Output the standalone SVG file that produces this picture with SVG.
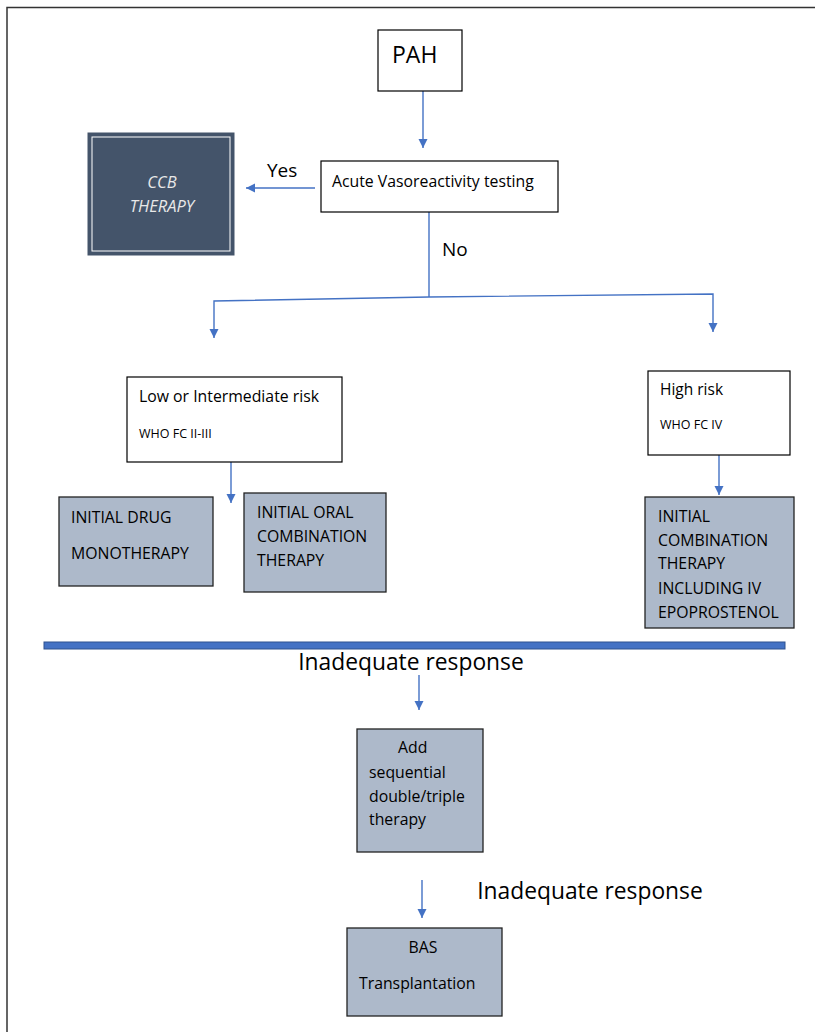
<svg xmlns="http://www.w3.org/2000/svg" width="815" height="1032" viewBox="0 0 815 1032">
<defs>
<marker id="ah" markerWidth="12" markerHeight="12" refX="9" refY="4.5" orient="auto" markerUnits="userSpaceOnUse">
<path d="M0,0 L9,4.5 L0,9 Z" fill="#4472C4"/>
</marker>
<style>
.box{fill:#ffffff;stroke:#000;stroke-width:1.2}
.gbox{fill:#ADB9CA;stroke:#222;stroke-width:1.3}
.t{font-family:"Open Sans","Liberation Sans",sans-serif;fill:#000}
.m{font-size:15.8px}
.c{stroke:#4472C4;stroke-width:1.4;fill:none}
.ca{stroke:#4472C4;stroke-width:1.4;fill:none;marker-end:url(#ah)}
</style>
</defs>
<rect width="815" height="1032" fill="#fff"/>
<path d="M7,1032 V7.5 H815" fill="none" stroke="#333" stroke-width="1.5"/>

<g id="connectors">
<line class="ca" x1="423" y1="91" x2="423" y2="148"/>
<line class="ca" x1="315" y1="188" x2="246" y2="188"/>
<polyline class="c" points="429,212 429,297"/>
<polyline class="ca" points="429,297 214,301 214,338"/>
<polyline class="ca" points="429,297 713,294 713,332"/>
<line class="ca" x1="231" y1="462" x2="231" y2="503"/>
<line class="ca" x1="719" y1="455" x2="719" y2="495"/>
<line class="ca" x1="419" y1="675" x2="419" y2="710"/>
<line class="ca" x1="422" y1="880" x2="422" y2="918"/>
</g>

<g id="pah">
<rect class="box" x="378" y="30" width="84" height="61"/>
<text class="t" x="392" y="63" font-size="23">PAH</text>
</g>

<g id="avt">
<rect class="box" x="321" y="161" width="237" height="51"/>
<text class="t m" x="332" y="187">Acute Vasoreactivity testing</text>
</g>

<g id="ccb">
<rect x="88" y="133" width="146" height="122" fill="#44546A" stroke="#44546A"/>
<rect x="92" y="137" width="138" height="114" fill="none" stroke="#ffffff" stroke-width="1"/>
<text class="t" x="162" y="188" font-size="16.5" font-style="italic" style="fill:#e8e8e8" text-anchor="middle">CCB</text>
<text class="t" x="162" y="212" font-size="16.5" font-style="italic" style="fill:#e8e8e8" text-anchor="middle">THERAPY</text>
</g>

<g id="labels">
<text class="t" x="267" y="177" font-size="19">Yes</text>
<text class="t" x="442" y="256" font-size="19">No</text>
<text class="t" x="411" y="670" font-size="22.8" text-anchor="middle">Inadequate response</text>
<text class="t" x="590" y="899" font-size="22.8" text-anchor="middle">Inadequate response</text>
</g>

<g id="low">
<rect class="box" x="127" y="377" width="215" height="85"/>
<text class="t m" x="139" y="402">Low or Intermediate risk</text>
<text class="t" x="139" y="438" font-size="12.5">WHO FC II-III</text>
</g>

<g id="high">
<rect class="box" x="648" y="371" width="142" height="84"/>
<text class="t" x="660" y="395" font-size="15.5">High risk</text>
<text class="t" x="660" y="429" font-size="12.5">WHO FC IV</text>
</g>

<g id="mono">
<rect class="gbox" x="59" y="497" width="154" height="89"/>
<text class="t m" x="71" y="523">INITIAL DRUG</text>
<text class="t m" x="71" y="559">MONOTHERAPY</text>
</g>

<g id="oral">
<rect class="gbox" x="244" y="493" width="142" height="99"/>
<text class="t m" x="257" y="518">INITIAL ORAL</text>
<text class="t m" x="257" y="542">COMBINATION</text>
<text class="t m" x="257" y="566">THERAPY</text>
</g>

<g id="combo">
<rect class="gbox" x="645" y="497" width="149" height="131"/>
<text class="t m" x="658" y="522">INITIAL</text>
<text class="t m" x="658" y="546">COMBINATION</text>
<text class="t m" x="658" y="569">THERAPY</text>
<text class="t m" x="658" y="594">INCLUDING IV</text>
<text class="t m" x="658" y="618">EPOPROSTENOL</text>
</g>

<g id="bar">
<rect x="44" y="642" width="741" height="7" fill="#4472C4" stroke="#2F528F" stroke-width="1"/>
</g>

<g id="seq">
<rect class="gbox" x="357" y="729" width="126" height="123"/>
<text class="t m" x="398" y="753">Add</text>
<text class="t m" x="369" y="778">sequential</text>
<text class="t m" x="369" y="802">double/triple</text>
<text class="t m" x="369" y="825">therapy</text>
</g>

<g id="bas">
<rect class="gbox" x="347" y="928" width="155" height="88"/>
<text class="t m" x="423" y="953" text-anchor="middle">BAS</text>
<text class="t m" x="359" y="989">Transplantation</text>
</g>
</svg>
